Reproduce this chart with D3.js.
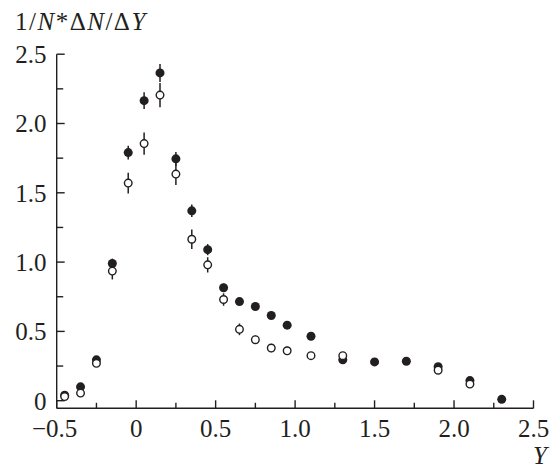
<!DOCTYPE html>
<html><head><meta charset="utf-8">
<script src="https://cdn.jsdelivr.net/npm/d3@7"></script>
<style>body{margin:0;background:#fff}svg{display:block}</style>
</head><body>
<svg id="c" width="558" height="469"></svg>
<script>
const xVals   = [-0.45,-0.35,-0.25,-0.15,-0.05,0.05,0.15,0.25,0.35,0.45,0.55,0.65,0.75,0.85,0.95,1.10,1.30,1.50,1.70,1.90,2.10,2.30];
const filled  = [0.04,0.10,0.295,0.99,1.79,2.165,2.365,1.745,1.37,1.09,0.815,0.715,0.68,0.615,0.545,0.465,0.295,0.28,0.285,0.245,0.145,0.01];
const filledErr=[0.02,0.02,0.02,0.035,0.05,0.06,0.065,0.05,0.045,0.04,0.03,0.02,0.02,0.02,0.02,0.02,0.02,0.02,0.02,0.02,0.02,0.01];
const open    = [0.03,0.055,0.27,0.935,1.57,1.855,2.205,1.635,1.165,0.98,0.73,0.515,0.44,0.38,0.36,0.325,0.325,null,null,0.22,0.12,null];
const openErr = [0.02,0.02,0.02,0.06,0.075,0.08,0.087,0.078,0.07,0.055,0.045,0.042,0.03,0.03,0.03,0.02,0.02,null,null,0.02,0.02,null];
const xTicks = [-0.5,0,0.5,1.0,1.5,2.0,2.5];
const xTickLabels = ["\u22120.5","0","0.5","1.0","1.5","2.0","2.5"];
const yTicks = [0,0.5,1.0,1.5,2.0,2.5];
const yTickLabels = ["0","0.5","1.0","1.5","2.0","2.5"];

const svg = d3.select("#c");
const ink = "#231f20";
const font = "'Liberation Serif', 'Times New Roman', serif";
const fs = 25;
const x = d3.scaleLinear().domain([-0.5,2.5]).range([56.7,533.5]);
const y = d3.scaleLinear().domain([0,2.5]).range([400.7,54.2]);
const axY = 408.3;

// axes lines
svg.append("line").attr("x1",x(-0.5)).attr("x2",x(2.5)).attr("y1",axY).attr("y2",axY).attr("stroke",ink).attr("stroke-width",1.4);
svg.append("line").attr("x1",x(-0.5)).attr("x2",x(-0.5)).attr("y1",y(2.5)).attr("y2",axY).attr("stroke",ink).attr("stroke-width",1.4);

// x ticks
const xMinor = d3.range(-0.5,2.5001,0.25);
svg.selectAll(".xt").data(xMinor).enter().append("line")
  .attr("x1",d=>x(d)).attr("x2",d=>x(d)).attr("y1",axY)
  .attr("y2",d=>axY-(Math.abs(d*2-Math.round(d*2))<1e-6?8:5.5))
  .attr("stroke",ink).attr("stroke-width",1.4);
svg.selectAll(".xl").data(xTicks).enter().append("text")
  .attr("x",(d,i)=>x(d)-(i===0?2:0)).attr("y",437).attr("text-anchor","middle")
  .attr("font-family",font).attr("font-size",fs).attr("fill",ink)
  .text((d,i)=>xTickLabels[i]);

// y ticks
const yMinor = d3.range(0,2.5001,0.25);
svg.selectAll(".yt").data(yMinor).enter().append("line")
  .attr("x1",x(-0.5)).attr("y1",d=>y(d)).attr("y2",d=>y(d))
  .attr("x2",d=>x(-0.5)+(Math.abs(d*2-Math.round(d*2))<1e-6?8:6.5))
  .attr("stroke",ink).attr("stroke-width",1.4);
svg.selectAll(".yl").data(yTicks).enter().append("text")
  .attr("x",46.5).attr("y",d=>y(d)+8.8).attr("text-anchor","end")
  .attr("font-family",font).attr("font-size",fs).attr("fill",ink)
  .text((d,i)=>yTickLabels[i]);

// axis titles
const t = svg.append("text").attr("x",15).attr("y",30).attr("font-family",font).attr("font-size",fs).attr("letter-spacing",1.5).attr("fill",ink);
t.append("tspan").text("1/");
t.append("tspan").attr("font-style","italic").text("N");
t.append("tspan").text("*\u0394");
t.append("tspan").attr("font-style","italic").text("N");
t.append("tspan").text("/\u0394");
t.append("tspan").attr("font-style","italic").text("Y");
svg.append("text").attr("x",547).attr("y",464).attr("text-anchor","end")
  .attr("font-family",font).attr("font-size",fs).attr("font-style","italic").attr("fill",ink).text("Y");

// series
const fData = xVals.map((v,i)=>({x:v,y:filled[i],e:filledErr[i]}));
const oData = xVals.map((v,i)=>({x:v,y:open[i],e:openErr[i]})).filter(d=>d.y!==null);
const g = svg.append("g");
g.selectAll(".fe").data(fData).enter().append("line")
  .attr("x1",d=>x(d.x)).attr("x2",d=>x(d.x)).attr("y1",d=>y(d.y-d.e)).attr("y2",d=>y(d.y+d.e))
  .attr("stroke",ink).attr("stroke-width",1.5);
g.selectAll(".fc").data(fData).enter().append("circle")
  .attr("cx",d=>x(d.x)).attr("cy",d=>y(d.y)).attr("r",4.5).attr("fill",ink);
g.selectAll(".oe").data(oData).enter().append("line")
  .attr("x1",d=>x(d.x)).attr("x2",d=>x(d.x)).attr("y1",d=>y(d.y-d.e)).attr("y2",d=>y(d.y+d.e))
  .attr("stroke",ink).attr("stroke-width",1.5);
g.selectAll(".oc").data(oData).enter().append("circle")
  .attr("cx",d=>x(d.x)).attr("cy",d=>y(d.y)).attr("r",3.8).attr("fill","#fff").attr("stroke",ink).attr("stroke-width",1.4);
</script>
</body></html>
